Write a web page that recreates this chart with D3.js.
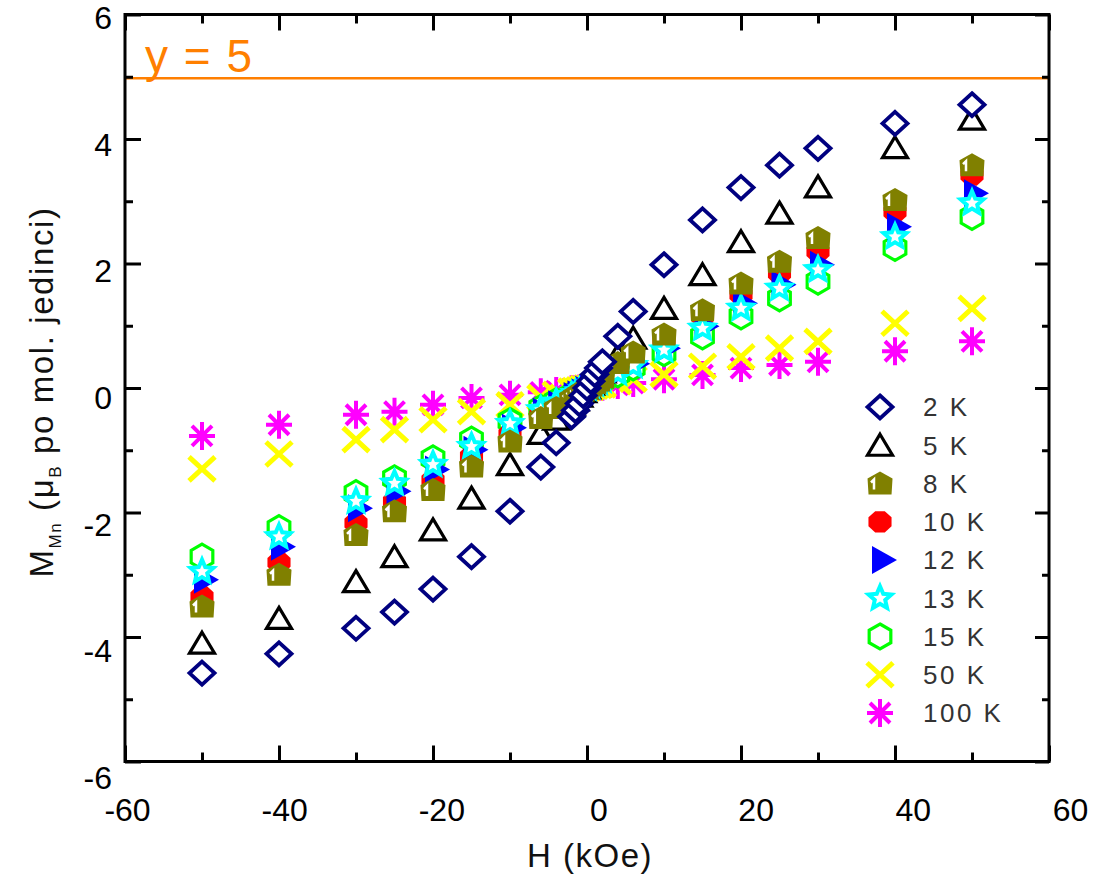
<!DOCTYPE html>
<html>
<head>
<meta charset="utf-8">
<script src="https://cdn.jsdelivr.net/npm/d3@7"></script>
<style>
html, body { margin: 0; padding: 0; background: #fff; }
#chart { width: 1098px; height: 881px; }
text { font-family: "Liberation Sans", Arial, sans-serif; }
</style>
</head>
<body>
<div id="chart"></div>
<script>
// field values (kOe), shared by all temperatures
var fields = [-50, -40, -30, -25, -20, -15, -10, -6, -4, -2, -1.5, -1, -0.5, 0, 0.5, 1, 1.5, 2, 4, 6, 10, 15, 20, 25, 30, 40, 50];

// M_Mn per temperature
var m2K = [-4.58, -4.27, -3.86, -3.60, -3.23, -2.71, -1.98, -1.27, -0.88, -0.46, -0.36, -0.25, -0.12, 0.00, 0.11, 0.22, 0.32, 0.42, 0.83, 1.23, 1.98, 2.70, 3.22, 3.58, 3.85, 4.25, 4.55];
var m5K = [-4.10, -3.70, -3.11, -2.71, -2.28, -1.77, -1.23, -0.73, -0.50, -0.26, -0.19, -0.13, -0.06, 0.00, 0.06, 0.13, 0.19, 0.26, 0.52, 0.80, 1.28, 1.82, 2.35, 2.81, 3.23, 3.86, 4.32];
var m8K = [-3.51, -3.00, -2.36, -1.98, -1.64, -1.26, -0.86, -0.48, -0.32, -0.16, -0.12, -0.08, -0.04, 0.00, 0.04, 0.08, 0.12, 0.17, 0.40, 0.57, 0.86, 1.25, 1.68, 2.03, 2.41, 3.02, 3.58];
var m10K = [-3.35, -2.80, -2.17, -1.82, -1.48, -1.10, -0.74, -0.44, -0.29, -0.15, -0.11, -0.07, -0.04, 0.00, 0.04, 0.07, 0.11, 0.15, 0.30, 0.45, 0.74, 1.15, 1.50, 1.84, 2.19, 2.83, 3.42];
var m12K = [-3.08, -2.55, -1.93, -1.66, -1.31, -0.99, -0.64, -0.38, -0.26, -0.13, -0.10, -0.07, -0.03, 0.00, 0.03, 0.07, 0.10, 0.13, 0.26, 0.39, 0.64, 0.99, 1.36, 1.66, 1.98, 2.59, 3.13];
var m13K = [-2.95, -2.39, -1.82, -1.53, -1.23, -0.94, -0.57, -0.35, -0.23, -0.12, -0.09, -0.06, -0.03, 0.00, 0.03, 0.06, 0.09, 0.12, 0.24, 0.36, 0.61, 0.96, 1.28, 1.60, 1.90, 2.43, 2.97];
var m15K = [-2.71, -2.25, -1.69, -1.45, -1.13, -0.83, -0.53, -0.32, -0.21, -0.11, -0.08, -0.05, -0.03, 0.00, 0.03, 0.05, 0.08, 0.11, 0.22, 0.33, 0.56, 0.83, 1.15, 1.44, 1.71, 2.25, 2.75];
var m50K = [-1.30, -1.06, -0.83, -0.67, -0.51, -0.38, -0.27, -0.15, -0.10, -0.05, -0.04, -0.03, -0.01, 0.00, 0.01, 0.03, 0.04, 0.05, 0.10, 0.14, 0.22, 0.35, 0.50, 0.64, 0.75, 1.04, 1.28];
var m100K = [-0.77, -0.59, -0.43, -0.38, -0.27, -0.16, -0.11, -0.07, -0.05, -0.02, -0.02, -0.01, -0.01, 0.00, 0.01, 0.01, 0.02, 0.02, 0.05, 0.08, 0.14, 0.21, 0.32, 0.37, 0.42, 0.59, 0.75];

var seriesNames = ["2 K", "5 K", "8 K", "10 K", "12 K", "13 K", "15 K", "50 K", "100 K"];
var seriesValues = [m2K, m5K, m8K, m10K, m12K, m13K, m15K, m50K, m100K];

var xTicks = [-60, -40, -20, 0, 20, 40, 60];
var xMinor = [-50, -30, -10, 10, 30, 50];
var yTicks = [-6, -4, -2, 0, 2, 4, 6];
var yMinor = [-5, -3, -1, 1, 3, 5];
var refLevel = 5;
var refLabel = "y = 5";

var poly = function (pts) { return d3.line()(pts) + "Z"; };
var SHAPES = {
    diamond: poly([[0, -11.5], [12.5, 0], [0, 11.5], [-12.5, 0]]),
    triangle: poly([[0, -11], [12.5, 10], [-12.5, 10]]),
    house: poly([[0, -12], [12.5, -5], [11.5, 11], [-11.5, 11], [-12.5, -5]]),
    octagon: poly(d3.range(8).map(function (i) {
        var a = Math.PI / 8 + i * Math.PI / 4;
        return [12.5 * Math.cos(a), 11.5 * Math.sin(a)];
    })),
    play: poly([[-8, -14], [17, 0], [-8, 14]]),
    star: d3.lineRadial().curve(d3.curveLinearClosed)(d3.range(10).map(function (i) {
        return [i * Math.PI / 5, i % 2 ? 5.5 : 12];
    })),
    hexagon: poly(d3.range(6).map(function (i) {
        var a = i * Math.PI / 3;
        return [12.5 * Math.sin(a), -12.5 * Math.cos(a)];
    })),
    cross: "M-13,-12L13,12M-13,12L13,-12",
    asterisk: "M0,-14L0,14M-13,0L13,0M-10,-10L10,10M-10,10L10,-10"
};
var ONE_MARK = "M-9,-1L-6,-4L-6,6";

var styles = [
    { shape: "diamond", fill: "#fff", stroke: "#000080", sw: 3.8 },
    { shape: "triangle", fill: "#fff", stroke: "#000", sw: 3.2 },
    { shape: "house", fill: "#808000", stroke: "none", sw: 0, mark: true },
    { shape: "octagon", fill: "#ff0000", stroke: "none", sw: 0 },
    { shape: "play", fill: "#0000ff", stroke: "none", sw: 0 },
    { shape: "star", fill: "#fff", stroke: "#00ffff", sw: 4 },
    { shape: "hexagon", fill: "#fff", stroke: "#00ff00", sw: 3.2 },
    { shape: "cross", fill: "none", stroke: "#ffff00", sw: 5 },
    { shape: "asterisk", fill: "none", stroke: "#ff00ff", sw: 4 }
];
// which series go on top of which
var drawOrder = [8, 7, 6, 1, 3, 4, 5, 2, 0];

var drawMarker = function (g, st) {
    g.append("path")
        .attr("d", SHAPES[st.shape])
        .attr("fill", st.fill)
        .attr("stroke", st.stroke)
        .attr("stroke-width", st.sw)
        .attr("stroke-linejoin", "miter");
    if (st.mark) {
        g.append("path")
            .attr("d", ONE_MARK)
            .attr("fill", "none")
            .attr("stroke", "#fff")
            .attr("stroke-width", 2.5);
    }
};

var init = function (selector) {
    var width = 1098, height = 881;
    var svg = d3.select(selector).append("svg")
        .attr("width", width)
        .attr("height", height);

    var x = d3.scaleLinear().domain([-60, 60]).range([125, 1049]);
    var y = d3.scaleLinear().domain([-6, 6]).range([761.5, 14.5]);
    // the tick labels sit a little wider than the ticks in the original
    var xl = d3.scaleLinear().domain([-60, 60]).range([127, 1070]);
    var yl = d3.scaleLinear().domain([-6, 6]).range([777, 17]);

    // reference line
    svg.append("line")
        .attr("x1", x(-60)).attr("x2", x(60))
        .attr("y1", y(refLevel) + 1.5).attr("y2", y(refLevel) + 1.5)
        .attr("stroke", "#ff7f00")
        .attr("stroke-width", 2.5);
    svg.append("text")
        .attr("x", 145)
        .attr("y", y(refLevel) - 5)
        .attr("fill", "#ff7f00")
        .style("font-size", "46px")
        .style("letter-spacing", "1.5px")
        .text(refLabel);

    // points
    drawOrder.forEach(function (si) {
        var st = styles[si];
        svg.append("g")
            .selectAll("g")
            .data(seriesValues[si].map(function (v, i) { return [fields[i], v]; }))
            .enter()
            .append("g")
            .attr("transform", function (d) { return "translate(" + x(d[0]) + "," + y(d[1]) + ")"; })
            .each(function () { drawMarker(d3.select(this), st); });
    });

    // frame and ticks
    var tickAxis = function (axis, tr, size, values) {
        var g = svg.append("g")
            .attr("transform", tr)
            .call(axis.tickValues(values).tickSize(-size).tickFormat(""));
        g.select(".domain").remove();
        g.selectAll("line").attr("stroke", "#000").attr("stroke-width", 3);
    };
    tickAxis(d3.axisBottom(x), "translate(0," + y(-6) + ")", 16, xTicks);
    tickAxis(d3.axisBottom(x), "translate(0," + y(-6) + ")", 9, xMinor);
    tickAxis(d3.axisTop(x), "translate(0," + y(6) + ")", 16, xTicks);
    tickAxis(d3.axisTop(x), "translate(0," + y(6) + ")", 9, xMinor);
    tickAxis(d3.axisLeft(y), "translate(" + x(-60) + ",0)", 16, yTicks);
    tickAxis(d3.axisLeft(y), "translate(" + x(-60) + ",0)", 8, yMinor);
    tickAxis(d3.axisRight(y), "translate(" + x(60) + ",0)", 14, yTicks);
    tickAxis(d3.axisRight(y), "translate(" + x(60) + ",0)", 7, yMinor);

    svg.append("rect")
        .attr("x", x(-60)).attr("y", y(6))
        .attr("width", x(60) - x(-60))
        .attr("height", y(-6) - y(6))
        .attr("fill", "none")
        .attr("stroke", "#000")
        .attr("stroke-width", 3);

    // tick labels
    var gx = svg.append("g")
        .attr("transform", "translate(0,798)")
        .call(d3.axisBottom(xl).tickValues(xTicks).tickSize(0).tickPadding(0));
    gx.select(".domain").remove();
    gx.selectAll("text")
        .attr("fill", "#000")
        .style("font-size", "32px")
        .style("font-family", "'Liberation Sans', Arial, sans-serif")
        .text(function (d) { return String(d); });

    var gy = svg.append("g")
        .attr("transform", "translate(112,0)")
        .call(d3.axisLeft(yl).tickValues(yTicks).tickSize(0).tickPadding(0));
    gy.select(".domain").remove();
    gy.selectAll("text")
        .attr("fill", "#000")
        .attr("dy", "0.36em")
        .style("font-size", "32px")
        .style("font-family", "'Liberation Sans', Arial, sans-serif")
        .text(function (d) { return String(d); });

    // axis titles
    svg.append("text")
        .attr("x", 590)
        .attr("y", 867)
        .attr("text-anchor", "middle")
        .attr("fill", "#111")
        .style("font-size", "33px")
        .style("letter-spacing", "1.5px")
        .text("H (kOe)");

    var yt = svg.append("text")
        .attr("transform", "translate(53," + 392 + ") rotate(-90)")
        .attr("text-anchor", "middle")
        .attr("fill", "#111")
        .style("font-size", "33px")
        .style("letter-spacing", "1.6px");
    yt.append("tspan").text("M");
    yt.append("tspan").attr("dy", 8).style("font-size", "17px").text("Mn");
    yt.append("tspan").attr("dy", -8).text(" (\u03bc");
    yt.append("tspan").attr("dy", 8).style("font-size", "17px").text("B");
    yt.append("tspan").attr("dy", -8).text(" po mol. jedinci)");

    // legend
    var legend = svg.append("g").attr("transform", "translate(880,407)");
    seriesNames.forEach(function (name, i) {
        var row = legend.append("g").attr("transform", "translate(0," + (i * 38.25) + ")");
        drawMarker(row.append("g"), styles[i]);
        row.append("text")
            .attr("x", 43)
            .attr("dy", "0.36em")
            .attr("fill", "#333")
            .style("font-size", "26px")
            .style("letter-spacing", "2.5px")
            .text(name);
    });
};
document.addEventListener('DOMContentLoaded', function () { return init("#chart"); }, false);
</script>
</body>
</html>
